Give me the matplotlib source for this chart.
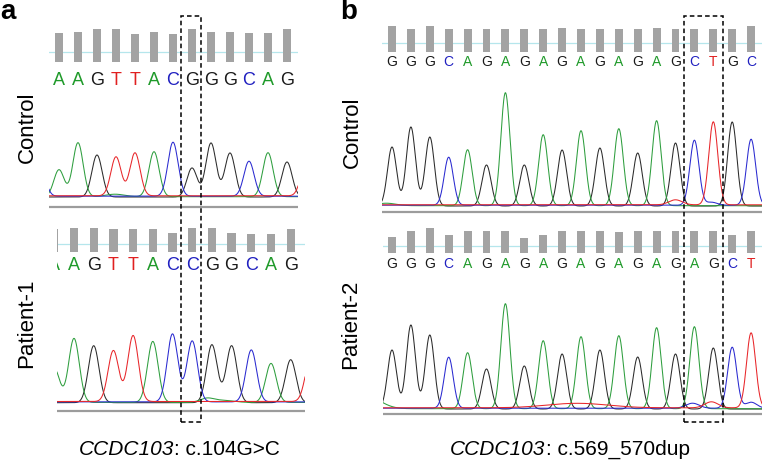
import numpy as np
import matplotlib
matplotlib.use("Agg")
import matplotlib.pyplot as plt
from matplotlib.patches import Rectangle

plt.rcParams.update({
    "font.family": ["Liberation Sans", "DejaVu Sans"],
})

# %% data

# panel a, control: bases incl. one off-screen base on each side
seq_ctrl_a = "CAAGTTACGGGCAGT"
peak_ctrl_a = [32, 27, 54, 42, 39, 43, 45, 54, 29, 54, 44, 35, 44, 35, 33]
qual_ctrl_a = [60, 58, 60, 66, 66, 56, 60, 56, 66, 60, 60, 58, 58, 66, 60]

# panel a, patient-1
seq_pat_a = "AAGTTACCGGCAGT"
peak_pat_a = [34, 64, 57, 51, 66, 61, 68, 61, 58, 57, 52, 39, 43, 41]
qual_pat_a = [58, 62, 62, 58, 58, 58, 49, 62, 62, 49, 46, 46, 58, 58]

# panel b, control
seq_ctrl_b = "GGGCAGAGAGAGAGAGCTGC"
peak_ctrl_b = [59, 79, 69, 48, 56, 41, 113, 41, 71, 56, 75, 58, 77, 53, 85, 63, 65, 83, 84, 66]
qual_ctrl_b = [60, 53, 60, 53, 53, 53, 53, 53, 53, 56, 53, 53, 53, 53, 56, 53, 53, 53, 53, 60]

# panel b, patient-2
seq_pat_b = "GGGCAGAGAGAGAGAGAGCT"
peak_pat_b = [59, 84, 74, 51, 56, 40, 105, 43, 68, 55, 72, 59, 73, 52, 81, 55, 82, 61, 61, 75]
qual_pat_b = [48, 66, 73, 53, 66, 66, 66, 43, 53, 66, 66, 66, 61, 66, 66, 66, 66, 66, 53, 66]

# small background bumps: (base position, channel, height, width)
noise_ctrl_a = [(3.95, "A", 2.5, 0.5)]
noise_pat_a = [(7.75, "A", 4, 0.35), (8.6, "A", 2, 0.5)]
noise_ctrl_b = [(-0.3, "A", 2.5, 0.5), (15.0, "T", 5, 0.35), (16.9, "C", 3, 0.3)]
noise_pat_b = [(-1.3, "A", 12, 0.7), (9.8, "T", 4.5, 1.6), (15.9, "C", 5, 0.35),
               (16.9, "T", 6, 0.35), (19.0, "C", 6, 0.3)]

qv_line = 20  # quality threshold (cyan line)

# highlighted bases (index into the control sequences)
box_a = (8, 8)
box_b = (16, 17)

gene = "CCDC103"
variant_a = ": c.104G>C"
variant_b = ": c.569_570dup"

trace_col = {"G": "#2b2b2b", "A": "#2e9e3e", "C": "#2a2ad0", "T": "#e8262a"}
letter_col = {"G": "#1a1a1a", "A": "#1f9a2a", "C": "#2020c0", "T": "#e02020"}
chan_offset = {"G": 0.0, "A": 0.3, "C": 0.8, "T": 1.2}

W, H = 762, 461
fig = plt.figure(figsize=(W / 100, H / 100), dpi=100)


def px_axes(x0, y0, x1, y1):
    ax = fig.add_axes([x0 / W, 1 - y1 / H, (x1 - x0) / W, (y1 - y0) / H])
    ax.set_axis_off()
    return ax


def draw_panel(seq, peaks, quals, noise, lay):
    xl, xr = lay["x"]
    x0, dx = lay["first"], lay["dx"]
    xlim = ((xl - x0) / dx, (xr - x0) / dx)
    idx = np.arange(len(seq))

    # quality bars + called bases
    k = qv_line / lay["qv_px"]
    bb = lay["bar_bottom"]
    hdr = px_axes(xl, lay["hdr"][0], xr, lay["hdr"][1])
    hdr.set_xlim(*xlim)
    hdr.set_ylim((bb - lay["hdr"][1]) * k, (bb - lay["hdr"][0]) * k)
    hdr.bar(idx, quals, width=0.42, color="#a3a3a3", zorder=2)
    hdr.axhline(qv_line, color="#b5e6ec", lw=0.9, zorder=1)
    for i, b in enumerate(seq):
        t = hdr.text(i, (bb - lay["letter_y"]) * k, b, ha="center", va="center",
                     fontsize=lay["fs"], color=letter_col[b])
        t.set_clip_on(True)

    # chromatogram
    base, gray = lay["baseline"], lay["gray"]
    tr = px_axes(xl, lay["top"], xr, gray + 3)
    tr.set_xlim(*xlim)
    tr.set_ylim(-(gray + 3 - base), base - lay["top"])
    xs = np.linspace(xlim[0], xlim[1], 2000)
    sig = lay["sigma"]
    for ch in "GACT":
        y = np.full_like(xs, chan_offset[ch])
        for i, b in enumerate(seq):
            if b == ch:
                y += peaks[i] * np.exp(-(xs - i) ** 2 / (2 * sig ** 2))
        for pos, c, h, w in noise:
            if c == ch:
                y += h * np.exp(-(xs - pos) ** 2 / (2 * w ** 2))
        tr.plot(xs, y, color=trace_col[ch], lw=0.75)
    tr.axhline(-(gray - base), color="#9c9c9c", lw=1.6)
    return tr


lay_ctrl_a = dict(x=(49, 298), first=40, dx=19, qv_px=10, bar_bottom=62, hdr=(20, 92),
                  letter_y=80.5, fs=13, top=128, baseline=197, gray=207, sigma=0.27)
lay_pat_a = dict(x=(57, 305), first=54.3, dx=19.7, qv_px=8, bar_bottom=252.3, hdr=(218, 276),
                 letter_y=265.3, fs=13, top=320, baseline=402.7, gray=411, sigma=0.27)
lay_ctrl_b = dict(x=(382, 762), first=392, dx=18.9, qv_px=8.4, bar_bottom=51.7, hdr=(20, 72),
                  letter_y=61.7, fs=10, top=85, baseline=206, gray=212.3, sigma=0.24)
lay_pat_b = dict(x=(382.7, 762), first=392, dx=18.9, qv_px=6.7, bar_bottom=252.7, hdr=(220, 273),
                 letter_y=263.8, fs=10, top=295, baseline=409, gray=414, sigma=0.24)

tr_a = draw_panel(seq_ctrl_a, peak_ctrl_a, qual_ctrl_a, noise_ctrl_a, lay_ctrl_a)
draw_panel(seq_pat_a, peak_pat_a, qual_pat_a, noise_pat_a, lay_pat_a)
tr_b = draw_panel(seq_ctrl_b, peak_ctrl_b, qual_ctrl_b, noise_ctrl_b, lay_ctrl_b)
draw_panel(seq_pat_b, peak_pat_b, qual_pat_b, noise_pat_b, lay_pat_b)

# dashed boxes around the variant position
inv = fig.transFigure.inverted()
for ax, (i0, i1) in [(tr_a, box_a), (tr_b, box_b)]:
    xa = inv.transform(ax.transData.transform((i0 - 0.57, 0)))[0]
    xb = inv.transform(ax.transData.transform((i1 + 0.5, 0)))[0]
    y_top, y_bot = 1 - 16 / H, 1 - 422 / H
    fig.add_artist(Rectangle((xa, y_bot), xb - xa, y_top - y_bot, transform=fig.transFigure,
                             fill=False, ec="black", lw=1.1, ls=(0, (3, 2))))

# labels
fig.text(0 / W, 1 - 19 / H, "a", fontsize=20, fontweight="bold", va="baseline")
fig.text(340 / W, 1 - 19 / H, "b", fontsize=20, fontweight="bold", va="baseline")
for x, y, s in [(27, 127, "Control"), (27, 323, "Patient-1"),
                (352, 132, "Control"), (351, 324, "Patient-2")]:
    fig.text(x / W, 1 - y / H, s, rotation=90, fontsize=16, ha="center", va="center")

# captions: italic gene name + plain variant, centred as one line
renderer = fig.canvas.get_renderer()
for cx, var in [(179, variant_a), (570, variant_b)]:
    t1 = fig.text(0, 1 - 449 / H, gene, fontsize=15, style="italic", va="center")
    t2 = fig.text(0, 1 - 449 / H, var, fontsize=15, va="center")
    w1 = t1.get_window_extent(renderer).width
    w2 = t2.get_window_extent(renderer).width
    left = cx - (w1 + w2) / 2
    t1.set_x(left / W)
    t2.set_x((left + w1) / W)

fig.savefig("out.png", dpi=100)
